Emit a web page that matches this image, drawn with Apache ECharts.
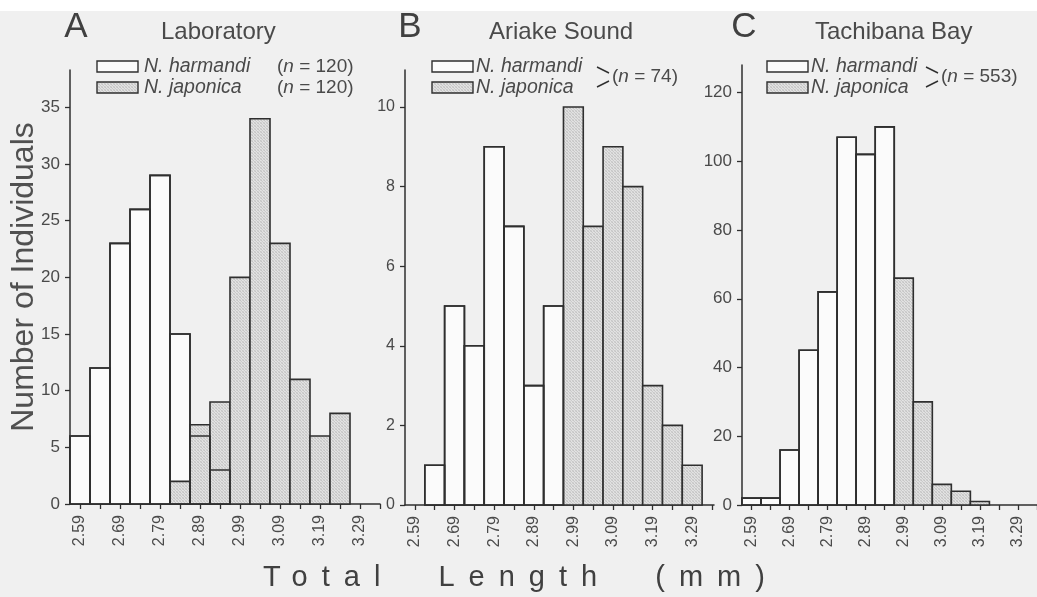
<!DOCTYPE html>
<html>
<head>
<meta charset="utf-8">
<script src="https://cdn.jsdelivr.net/npm/echarts@6/dist/echarts.min.js"></script>
<style>
html,body{margin:0;padding:0;background:#f0f0f0;}
#c{width:1037px;height:597px;}
</style>
</head>
<body>
<div id="c"></div>
<script>
// ---------------- data ----------------
const binCenters = [2.59, 2.64, 2.69, 2.74, 2.79, 2.84, 2.89, 2.94, 2.99, 3.04, 3.09, 3.14, 3.19, 3.24, 3.29];
const tickValues = [2.59, 2.64, 2.69, 2.74, 2.79, 2.84, 2.89, 2.94, 2.99, 3.04, 3.09, 3.14, 3.19, 3.24, 3.29, 3.34];
const tickLabels = [2.59, 2.69, 2.79, 2.89, 2.99, 3.09, 3.19, 3.29];

const labHarmandi = [6, 12, 23, 26, 29, 15, 6, 3, 0, 0, 0, 0, 0, 0, 0];
const labJaponica = [0, 0, 0, 0, 0, 2, 7, 9, 20, 34, 23, 11, 6, 8, 0];
const ariHarmandi = [0, 1, 5, 4, 9, 7, 3, 5, 0, 0, 0, 0, 0, 0, 0];
const ariJaponica = [0, 0, 0, 0, 0, 0, 0, 0, 10, 7, 9, 8, 3, 2, 1];
const tacHarmandi = [2, 2, 16, 45, 62, 107, 102, 110, 0, 0, 0, 0, 0, 0, 0];
const tacJaponica = [0, 0, 0, 0, 0, 0, 0, 0, 66, 30, 6, 4, 1, 0, 0];

const yTicksA = [0, 5, 10, 15, 20, 25, 30, 35];
const yTicksB = [0, 2, 4, 6, 8, 10];
const yTicksC = [0, 20, 40, 60, 80, 100, 120];

const panelLetters = ['A', 'B', 'C'];
const panelTitles = ['Laboratory', 'Ariake Sound', 'Tachibana Bay'];
const speciesNames = ['N. harmandi', 'N. japonica'];
const labN = [120, 120];
const ariN = 74;
const tacN = 553;
const yTitle = 'Number of Individuals';
const xTitle = 'Total  Length  (mm)';
const BIN = 0.05;

// -------------- letter spacing for the x title --------------
(function () {
  const orig = CanvasRenderingContext2D.prototype.fillText;
  CanvasRenderingContext2D.prototype.fillText = function (t) {
    if (t === xTitle && 'letterSpacing' in this) {
      const prev = this.letterSpacing;
      this.letterSpacing = '14px';
      const r = orig.apply(this, arguments);
      this.letterSpacing = prev;
      return r;
    }
    return orig.apply(this, arguments);
  };
})();

// -------------- styles --------------
const FONT = "'Liberation Sans', Arial, Helvetica, sans-serif";
const INK = '#2f2f2f';
const TXT = '#4a4a4a';
const WHITE_FILL = '#fbfbfb';

function makeStipple() {
  const c = document.createElement('canvas');
  c.width = 3; c.height = 3;
  const g = c.getContext('2d');
  const cols = [['#c4c4c4', '#e2e2e2', '#d2d2d2'], ['#dedede', '#cacaca', '#e4e4e4'], ['#d4d4d4', '#e0e0e0', '#c8c8c8']];
  for (let i = 0; i < 3; i++) for (let j = 0; j < 3; j++) { g.fillStyle = cols[i][j]; g.fillRect(j, i, 1, 1); }
  return { image: c, repeat: 'repeat' };
}
const STIPPLE = makeStipple();

function toPairs(vals) { return binCenters.map((x, i) => [x, vals[i]]); }

function makeRender(fill, stroke) {
  return function (params, api) {
    const x = api.value(0), y = api.value(1);
    if (!y) return null;
    const tl = api.coord([x - BIN / 2, y]);
    const br = api.coord([x + BIN / 2, 0]);
    return {
      type: 'rect',
      shape: { x: tl[0], y: tl[1], width: br[0] - tl[0], height: br[1] - tl[1] },
      style: { fill: fill, stroke: stroke, lineWidth: 1.6 }
    };
  };
}

function xAxisFor(idx, max) {
  return {
    type: 'value', gridIndex: idx, min: 2.565, max: max,
    axisLine: { show: true, onZero: false, lineStyle: { color: INK, width: 1.5 } },
    axisTick: { show: true, customValues: tickValues, length: 5, inside: false, lineStyle: { color: INK, width: 1.3 } },
    axisLabel: {
      customValues: tickLabels, rotate: 90, margin: 11, fontSize: 16, fontFamily: FONT, color: TXT,
      formatter: v => Number(v).toFixed(2)
    },
    splitLine: { show: false }
  };
}
function yAxisFor(idx, max, ticks, fs) {
  return {
    type: 'value', gridIndex: idx, min: 0, max: max,
    axisLine: { show: true, lineStyle: { color: INK, width: 1.5 } },
    axisTick: { show: true, customValues: ticks, length: 5, lineStyle: { color: INK, width: 1.3 } },
    axisLabel: { customValues: ticks, margin: 10, fontSize: fs, fontFamily: FONT, color: TXT },
    splitLine: { show: false }
  };
}
function seriesFor(idx, harm, jap) {
  return [
    { type: 'custom', xAxisIndex: idx, yAxisIndex: idx, z: 2, data: toPairs(harm), renderItem: makeRender(WHITE_FILL, INK), silent: true },
    { type: 'custom', xAxisIndex: idx, yAxisIndex: idx, z: 3, data: toPairs(jap), renderItem: makeRender(STIPPLE, INK), silent: true },
    { type: 'custom', xAxisIndex: idx, yAxisIndex: idx, z: 4, data: toPairs(harm), renderItem: makeRender('none', INK), silent: true }
  ];
}

// -------------- graphic (titles / legends) --------------
function txt(text, x, y, size, opts) {
  opts = opts || {};
  return {
    type: 'text', x: x, y: y, rotation: opts.rotation || 0, z: 10,
    style: {
      text: text, fontSize: size, fontFamily: FONT, fontStyle: opts.italic ? 'italic' : 'normal',
      fill: opts.color || TXT,
      align: opts.align || 'left', textAlign: opts.align || 'left',
      verticalAlign: 'middle', textVerticalAlign: 'middle',
      rich: opts.rich
    }
  };
}
function nText(n, x, y) {
  return txt('({i|n} = ' + n + ')', x, y, 19, {
    rich: { i: { fontStyle: 'italic', fontSize: 19, fontFamily: FONT, fill: TXT } }
  });
}
function box(x, y, fill) {
  return { type: 'rect', z: 10, shape: { x: x, y: y, width: 41, height: 11 }, style: { fill: fill, stroke: INK, lineWidth: 1.4 } };
}
function line(x1, y1, x2, y2) {
  return { type: 'line', z: 10, shape: { x1: x1, y1: y1, x2: x2, y2: y2 }, style: { stroke: INK, lineWidth: 1.5 } };
}

const graphics = [
  { type: 'rect', z: 0, shape: { x: 0, y: 0, width: 1037, height: 11 }, style: { fill: '#ffffff' } },
  // panel letters and titles
  txt(panelLetters[0], 76, 27, 35, { align: 'center', color: '#404040' }),
  txt(panelTitles[0], 161, 32, 24),
  txt(panelLetters[1], 410, 27, 35, { align: 'center', color: '#404040' }),
  txt(panelTitles[1], 489, 32, 24),
  txt(panelLetters[2], 744, 27, 35, { align: 'center', color: '#404040' }),
  txt(panelTitles[2], 815, 32, 24),
  // legend A
  box(97, 61, WHITE_FILL), box(97, 82, STIPPLE),
  txt(speciesNames[0], 144, 67, 19.5, { italic: true }),
  txt(speciesNames[1], 144, 88, 19.5, { italic: true }),
  nText(labN[0], 277, 67), nText(labN[1], 277, 88),
  // legend B
  box(432, 61, WHITE_FILL), box(432, 82, STIPPLE),
  txt(speciesNames[0], 476, 67, 19.5, { italic: true }),
  txt(speciesNames[1], 476, 88, 19.5, { italic: true }),
  line(597, 67, 609, 73), line(597, 87, 609, 81),
  nText(ariN, 612, 77),
  // legend C
  box(767, 61, WHITE_FILL), box(767, 82, STIPPLE),
  txt(speciesNames[0], 811, 67, 19.5, { italic: true }),
  txt(speciesNames[1], 811, 88, 19.5, { italic: true }),
  line(926, 67, 938, 73), line(926, 87, 938, 81),
  nText(tacN, 941, 77),
  // axis titles
  txt(yTitle, 24, 277, 32, { align: 'center', rotation: Math.PI / 2, color: '#505050' }),
  txt(xTitle, 521, 578, 29, { align: 'center', color: '#404040' })
];

const option = {
  backgroundColor: '#f0f0f0',
  animation: false,
  grid: [
    { left: 70, top: 70, width: 310, height: 434 },
    { left: 405, top: 70, width: 309, height: 435 },
    { left: 742, top: 65, width: 310, height: 440 }
  ],
  xAxis: [xAxisFor(0, 3.34), xAxisFor(1, 3.345), xAxisFor(2, 3.34)],
  yAxis: [yAxisFor(0, 38.3, yTicksA, 17), yAxisFor(1, 10.93, yTicksB, 16), yAxisFor(2, 128, yTicksC, 17)],
  series: [].concat(
    seriesFor(0, labHarmandi, labJaponica),
    seriesFor(1, ariHarmandi, ariJaponica),
    seriesFor(2, tacHarmandi, tacJaponica)
  ),
  graphic: graphics
};

const chart = echarts.init(document.getElementById('c'), null, { renderer: 'canvas' });
chart.setOption(option);
</script>
</body>
</html>
